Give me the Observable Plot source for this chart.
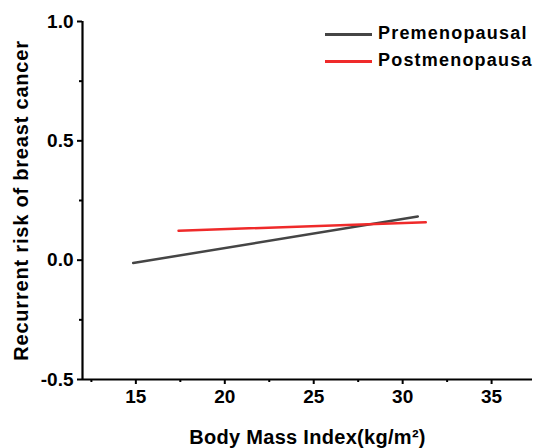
<!DOCTYPE html>
<html><head><meta charset="utf-8">
<script src="https://cdn.jsdelivr.net/npm/d3@7"></script>
<script src="https://cdn.jsdelivr.net/npm/@observablehq/plot@0.6"></script>
<style>
body{margin:0;background:#fff;font-family:"Liberation Sans",Arial,sans-serif;}
#wrap{position:relative;width:534px;height:448px;}
.leg{position:absolute;left:325px;font-weight:bold;font-size:18px;line-height:20px;letter-spacing:1.2px;white-space:nowrap;}
.leg span.sw{display:inline-block;width:47px;height:2.5px;margin-right:6px;vertical-align:middle;}
</style></head><body>
<div id="wrap"></div>
<script>
const seriesNames = ["Premenopausal", "Postmenopausa"];
const seriesColors = ["#454545", "#ef2a2a"];
const preBMI = [14.85, 30.85];
const preRisk = [-0.012, 0.183];
const postBMI = [17.4, 31.3];
const postRisk = [0.123, 0.159];
const xTicks = [15, 20, 25, 30, 35];
const xMinor = [12.5, 17.5, 22.5, 27.5, 32.5];
const yTicks = [-0.5, 0, 0.5, 1.0];
const yMinor = [-0.25, 0.25, 0.75];

const data = [
  ...preBMI.map((x, i) => ({bmi: x, risk: preRisk[i], group: seriesNames[0]})),
  ...postBMI.map((x, i) => ({bmi: x, risk: postRisk[i], group: seriesNames[1]}))
];

const chart = Plot.plot({
  width: 534, height: 448,
  marginLeft: 82, marginTop: 21, marginBottom: 69, marginRight: 2,
  style: {fontFamily: "'Liberation Sans', Arial, sans-serif", fontSize: "19px", fontWeight: "bold", color: "#000"},
  x: {domain: [12, 37.3]},
  y: {domain: [-0.5, 1.0]},
  color: {domain: seriesNames, range: seriesColors},
  marks: [
    Plot.axisX({ticks: xTicks, tickSize: 5, tickPadding: 5, strokeWidth: 2, tickFormat: d => String(d),
      label: "Body Mass Index(kg/m²)", labelAnchor: "center", labelArrow: "none", labelOffset: 64}),
    Plot.axisX({ticks: xMinor, tickSize: 3, strokeWidth: 2, tickFormat: () => "", label: null}),
    Plot.axisY({ticks: yTicks, tickSize: 5, tickPadding: 4, strokeWidth: 2, tickFormat: d => d.toFixed(1),
      label: "Recurrent risk of breast cancer", labelAnchor: "center", labelArrow: "none", labelOffset: 69}),
    Plot.axisY({ticks: yMinor, tickSize: 3, strokeWidth: 2, tickFormat: () => "", label: null}),
    Plot.ruleY([-0.5], {strokeWidth: 2.2, stroke: "#000"}),
    Plot.ruleX([12], {strokeWidth: 2.2, stroke: "#000"}),
    Plot.line(data, {x: "bmi", y: "risk", z: "group", stroke: "group", strokeWidth: 2.5})
  ]
});
chart.querySelectorAll('g[aria-label="x-axis label"] text').forEach(t => {
  t.style.fontSize = "20px"; t.style.letterSpacing = "0.3px";
});
chart.querySelectorAll('g[aria-label="y-axis label"] text').forEach(t => {
  t.style.fontSize = "20px"; t.style.letterSpacing = "0.8px";
});
const wrap = document.getElementById("wrap");
wrap.appendChild(chart);
const tops = [23, 50];
seriesNames.forEach((n, i) => {
  const d = document.createElement("div");
  d.className = "leg";
  d.style.top = tops[i] + "px";
  d.innerHTML = `<span class="sw" style="background:${seriesColors[i]}"></span>${n}`;
  wrap.appendChild(d);
});
</script>
</body></html>
